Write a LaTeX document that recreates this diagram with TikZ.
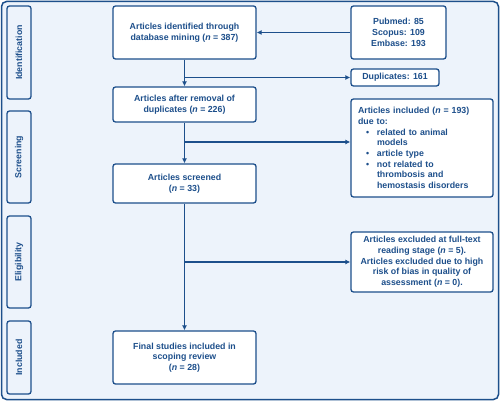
\documentclass[tikz,border=0pt]{standalone}
\usepackage{fontspec}
\setsansfont{Liberation Sans}
\usetikzlibrary{positioning, arrows.meta}
\definecolor{flowblue}{HTML}{1D4F8B}
\definecolor{flowback}{HTML}{EDF3FB}
\newcommand{\boundarycolor}{flowblue}
\newcommand{\fillcolorback}{flowback}

\begin{document}
\begin{tikzpicture}[x=1pt,y=-1pt,font=\sffamily\bfseries\fontsize{8.8}{10.7}\selectfont,text=\boundarycolor,
	box/.style={draw=\boundarycolor,fill=white,line width=1.3pt,rounded corners=2.5pt,align=center,inner sep=2pt},
	stage/.style={draw=\boundarycolor,line width=1.3pt,rounded corners=2.5pt,rotate=90,minimum height=24pt,inner sep=1pt},
	arr/.style={draw=\boundarycolor,line width=1.3pt,-{Latex[length=5pt,width=5pt]}}]
	\useasboundingbox (0,0) rectangle (500,401);
	\draw[draw=\boundarycolor,line width=1.5pt,fill=\fillcolorback,rounded corners=5pt] (1.5,1.5) rectangle (498.5,399.5);
	%%
	\node[stage,minimum width=93pt] (sid) at (19,52.5) {Identification};
	\node[stage,minimum width=92pt] (ssc) at (19,157) {Screening};
	\node[stage,minimum width=92pt] (sel) at (19,262) {Eligibility};
	\node[stage,minimum width=73pt] (sin) at (19,357.5) {Included};
	%%
	\node[box,minimum width=143pt,minimum height=53pt] (ident) at (184.5,32.5) {Articles identified through\\database mining (\textit{n} = 387)};
	\node[box,minimum width=143pt,minimum height=35pt] (dedup) at (184.5,104.5) {Articles after removal of\\duplicates (\textit{n} = 226)};
	\node[box,minimum width=143pt,minimum height=39pt] (screen) at (184.5,183.5) {Articles screened\\(\textit{n} = 33)};
	\node[box,minimum width=143pt,minimum height=53pt] (final) at (184.5,357.5) {Final studies included in\\scoping review\\(\textit{n} = 28)};
	%%
	\node[box,minimum width=95pt,minimum height=53pt] (pub) at (398.5,32.5) {Pubmed: 85\\Scopus: 109\\Embase: 193};
	\node[box,minimum width=88pt,minimum height=17pt] (dup) at (395,77.5) {Duplicates: 161};
	\node[box,minimum height=98pt,text width=128pt,inner xsep=7pt,align=left] (incl) at (422,148) {Articles included (\textit{n} = 193)\\
		due to:\\
		\hspace*{8pt}\makebox[11pt][l]{\textbullet}related to animal\\
		\hspace*{19pt}models\\
		\hspace*{8pt}\makebox[11pt][l]{\textbullet}article type\\
		\hspace*{8pt}\makebox[11pt][l]{\textbullet}not related to\\
		\hspace*{19pt}thrombosis and\\
		\hspace*{19pt}hemostasis disorders};
	\node[box,minimum width=142pt,minimum height=60pt] (excl) at (422,262) {Articles excluded at full-text\\reading stage (\textit{n} = 5).\\Articles excluded due to high\\risk of bias in quality of\\assessment (\textit{n} = 0).};
	%%
	\coordinate (j2) at (184.5,142);
	\draw[arr] (pub.west) -- (ident.east);
	\draw[arr] (ident) -- (dedup);
	\draw[arr] (ident.south |- dup.west) -- (dup.west);
	\draw[arr] (dedup) -- (screen);
	\draw[arr] (j2) -- (j2 -| incl.west);
	\draw[arr] (screen) -- (final);
	\draw[arr] (screen.south |- excl.west) -- (excl.west);
\end{tikzpicture}
\end{document}
